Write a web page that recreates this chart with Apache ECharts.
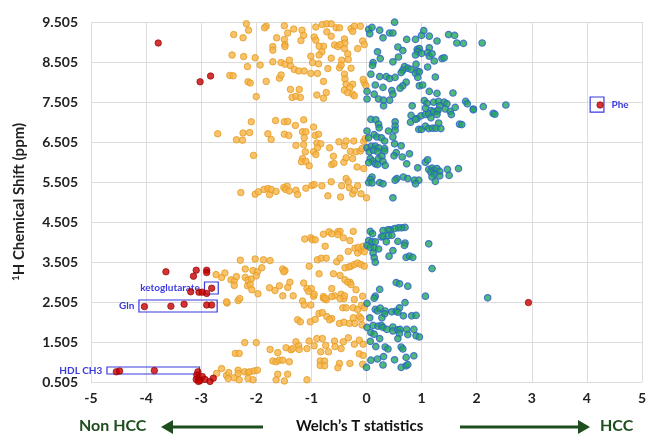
<!DOCTYPE html>
<html><head><meta charset="utf-8">
<script src="https://cdn.jsdelivr.net/npm/echarts@6/dist/echarts.min.js"></script>
<style>html,body{margin:0;padding:0;background:#fff}#c{width:649px;height:436px}</style>
</head><body><div id="c"></div>
<script>
const xTicks = [-5,-4,-3,-2,-1,0,1,2,3,4,5];
const yTicks = [0.505,1.505,2.505,3.505,4.505,5.505,6.505,7.505,8.505,9.505];

const orangePoints = [
[-2.18,9.46],[-2.14,9.30],[-2.41,9.19],[-2.24,9.11],[-1.82,9.40],[-1.85,9.36],[-1.49,9.41],[-1.32,9.33],[-1.43,9.23],[-1.17,9.30],
[-1.14,9.17],[-1.63,9.11],[-1.49,9.07],[-1.19,9.04],[-1.48,8.94],[-0.92,9.38],[-0.80,9.44],[-0.72,9.46],[-0.64,9.46],[-0.55,9.36],
[-0.49,9.36],[-0.28,9.34],[-0.22,9.40],[-0.11,9.40],[-0.25,9.27],[-0.72,9.26],[-0.64,9.15],[-0.95,9.13],[-0.92,9.05],[-0.40,9.08],
[-0.39,8.98],[-0.07,9.03],[-0.04,8.94],[-0.58,8.93],[-0.52,8.89],[-0.40,8.84],[-0.48,8.94],[-0.78,8.90],[-0.86,8.90],[-1.70,8.89],
[-1.70,8.80],[-1.48,8.89],[-0.16,8.84],[-0.81,8.76],[-0.86,8.68],[-1.01,8.65],[-0.64,8.60],[-0.45,8.55],[-0.34,8.71],[-0.33,8.57],
[-2.44,8.68],[-2.23,8.64],[-2.02,8.61],[-1.70,8.51],[-1.55,8.49],[-1.48,8.45],[-1.40,8.55],[-1.93,8.43],[-2.16,8.39],[-1.38,8.41],
[-1.31,8.32],[-1.23,8.28],[-1.13,8.28],[-0.98,8.49],[-0.87,8.46],[-0.70,8.34],[-1.01,8.22],[-0.89,8.22],[-0.49,8.36],[-0.46,8.43],
[-0.28,8.35],[-0.40,8.20],[-0.39,8.08],[-0.37,7.95],[-2.48,8.17],[-2.42,8.16],[-2.15,8.01],[-2.11,7.98],[-1.82,8.02],[-1.58,8.10],
[-1.55,8.18],[-0.78,8.02],[-0.25,7.95],[-0.40,7.80],[-0.34,7.74],[-0.25,7.70],[-0.22,7.66],[-0.30,7.87],[-0.04,7.99],[-0.01,7.91],
[-0.06,8.07],[-1.38,7.82],[-1.22,7.82],[-0.73,7.74],[-0.90,7.68],[-0.78,7.60],[-1.35,7.62],[-1.28,7.65],[-1.20,7.62],[-2.00,7.64],
[-2.70,6.71],[-2.36,6.56],[-2.25,6.55],[-2.24,6.73],[-2.12,6.74],[-2.09,7.01],[-2.05,6.17],[-1.79,6.71],[-1.73,6.57],[-1.65,7.04],
[-1.49,7.01],[-1.43,7.02],[-1.49,6.70],[-1.41,6.67],[-1.29,6.92],[-1.14,7.06],[-1.16,6.76],[-1.10,6.76],[-1.13,6.61],[-0.96,6.88],
[-0.93,6.67],[-0.87,6.70],[-1.28,6.42],[-1.14,6.44],[-0.90,6.48],[-0.83,6.46],[-0.89,6.36],[-1.11,6.26],[-0.96,6.26],[-0.92,6.19],
[-1.16,6.09],[-1.18,6.01],[-1.10,6.02],[-1.04,5.91],[-0.67,6.36],[-0.50,6.51],[-0.40,6.41],[-0.37,6.53],[-0.23,6.53],[-0.60,6.15],
[-0.63,5.94],[-0.59,5.97],[-0.41,6.00],[-0.37,6.11],[-0.29,6.27],[-0.25,6.09],[-0.19,6.26],[-0.11,6.28],[-0.08,6.34],[-0.05,6.52],
[-0.02,6.59],[-0.17,5.88],[-0.05,5.84],[-2.28,5.24],[-2.02,5.20],[-1.96,5.26],[-1.86,5.32],[-1.79,5.34],[-1.76,5.19],[-1.73,5.32],
[-1.64,5.27],[-1.50,5.37],[-1.44,5.40],[-1.47,5.32],[-1.40,5.28],[-1.28,5.30],[-1.25,5.19],[-1.10,5.35],[-0.99,5.42],[-0.95,5.44],
[-0.81,5.41],[-0.64,5.51],[-0.70,5.16],[-0.47,5.13],[-0.45,5.41],[-0.37,5.59],[-0.33,5.51],[-0.31,5.36],[-0.25,5.21],[-0.22,5.30],
[-0.16,5.41],[-0.10,5.21],[0.00,5.11],
[-1.12,4.08],[-1.01,4.11],[-0.98,4.06],[-0.93,4.06],[-0.78,4.20],[-0.68,4.26],[-0.63,4.21],[-0.52,4.26],[-0.48,4.27],[-0.52,4.19],
[-0.42,4.11],[-0.30,4.04],[-0.24,4.27],[-0.75,3.90],[-0.33,3.77],[-0.21,3.85],[-0.16,3.73],[-0.10,3.81],[-0.04,3.76],[-0.15,3.87],
[-0.06,3.90],[-2.29,3.55],[-2.02,3.58],[-1.87,3.56],[-1.75,3.54],[-2.20,3.33],[-2.06,3.29],[-1.98,3.26],[-1.90,3.36],[-1.52,3.33],
[-1.48,3.29],[-1.50,3.26],[-1.04,3.40],[-0.89,3.56],[-0.82,3.60],[-0.73,3.60],[-0.54,3.51],[-0.48,3.60],[-0.39,3.36],[-0.32,3.38],
[-0.28,3.40],[-0.22,3.44],[-0.16,3.48],[-0.10,3.44],[-0.04,3.40],[-0.86,3.21],[-0.60,3.21],[-0.48,3.17],[-0.39,3.06],[-0.30,3.00],
[-2.73,3.19],[-2.63,3.12],[-2.57,3.23],[-2.46,3.06],[-2.40,3.03],[-2.36,3.14],[-2.40,2.92],[-2.20,3.12],[-2.15,3.05],[-2.09,3.08],
[-2.00,3.16],[-2.16,2.91],[-2.11,2.94],[-2.08,2.81],[-1.76,2.86],[-1.58,2.91],[-1.66,2.79],[-1.52,2.66],[-1.43,2.87],[-1.39,3.00],
[-1.33,2.66],[-1.14,2.98],[-1.08,2.84],[-1.00,2.84],[-1.05,2.77],[-0.96,2.65],[-0.63,2.84],[-0.58,2.66],[-0.46,2.70],[-0.41,2.59],
[-0.78,2.60],[-0.73,2.56],[-0.34,3.00],[-0.28,2.94],[-0.19,2.81],[-0.07,2.65],[-1.97,2.71],[-2.33,2.54],[-2.53,2.48],
[-2.54,2.51],[-2.30,2.59],[-1.16,2.53],[-1.13,2.43],[-1.01,2.43],[-0.95,2.70],[-0.78,2.64],[-0.75,2.60],[-0.63,2.64],[-0.48,2.59],
[-0.40,2.66],[-0.22,2.57],[-0.43,2.36],[-0.37,2.36],[-0.24,2.36],[-0.16,2.32],[-0.09,2.42],[-0.04,2.36],[-0.86,2.22],[-0.80,2.24],
[-0.72,2.14],[-0.63,2.09],[-0.67,2.06],[-0.24,2.11],[-0.13,2.14],[-0.10,2.09],[-1.25,2.06],[-1.20,2.01],[-1.02,2.01],[-0.93,2.07],
[-0.49,1.97],[-0.41,2.00],[-0.31,1.97],[-0.21,1.97],[-0.08,1.93],[-2.21,1.49],[-2.00,1.49],[-2.38,1.22],[-2.31,1.22],[-1.75,1.32],
[-1.61,1.24],[-1.46,1.36],[-1.37,1.31],[-1.34,1.34],[-1.28,1.51],[-1.23,1.41],[-1.22,1.32],[-1.08,1.34],[-1.04,1.53],[-0.95,1.41],
[-0.90,1.59],[-0.80,1.59],[-0.74,1.42],[-0.58,1.53],[-0.57,1.39],[-0.83,1.26],[-0.69,1.26],[-0.46,1.34],[-0.42,1.51],[-0.33,1.61],
[-0.22,1.45],[-0.13,1.55],[-0.06,1.45],[-0.13,1.21],[-0.06,1.17],[-1.70,1.03],[-1.64,1.01],[-1.58,1.05],[-1.52,1.05],[-1.40,1.01],
[-1.61,0.70],[-1.43,0.70],[-1.64,0.56],[-1.49,0.53],[-1.08,0.56],[-0.84,1.03],[-0.76,1.03],[-0.84,0.92],[-0.76,0.91],[-0.49,0.97],
[-0.52,0.86],[-0.30,0.97],[-0.07,0.95],[-2.63,0.84],[-2.72,0.72],[-2.54,0.67],[-2.50,0.74],[-2.51,0.59],[-2.40,0.61],[-2.33,0.80],
[-2.33,0.72],[-2.21,0.76],[-2.15,0.74],[-2.12,0.76],[-2.04,0.78],[-1.98,0.80],[-2.31,0.56],[-2.15,0.59],[-2.06,0.56]
];

const tealPoints = [
[0.51,9.50],[0.04,9.32],[0.10,9.37],[0.06,9.21],[0.24,9.30],[0.30,9.11],[0.42,9.23],[0.48,9.23],[0.73,9.07],[0.89,9.07],
[1.00,9.17],[1.04,9.29],[1.14,9.15],[1.28,9.03],[1.49,9.19],[1.60,9.17],[1.64,8.98],[1.76,8.97],[2.10,8.98],[0.57,8.88],
[0.66,8.79],[0.20,8.76],[0.25,8.59],[0.58,8.63],[0.48,8.51],[0.12,8.49],[0.11,8.42],[0.92,8.82],[0.96,8.84],[0.93,8.76],
[0.89,8.68],[1.00,8.72],[1.14,8.86],[1.11,8.74],[1.14,8.65],[1.19,8.71],[1.23,8.53],[1.37,8.59],[1.41,8.61],[0.69,8.39],
[0.75,8.35],[0.81,8.32],[0.66,8.30],[0.63,8.24],[0.90,8.45],[0.92,8.28],[0.89,8.22],[0.96,8.26],[1.11,8.38],[0.93,8.12],
[1.25,8.13],[0.08,8.20],[0.24,8.14],[0.36,8.14],[0.42,8.09],[0.52,8.12],[0.72,8.00],[0.66,7.91],[0.61,7.85],[0.16,7.93],
[0.30,7.87],[0.01,7.77],[0.14,7.70],[0.46,7.79],[0.48,7.70],[0.96,7.91],[1.02,7.93],[1.14,7.77],[1.28,7.72],[1.57,7.73],
[0.01,7.58],[0.22,7.58],[0.31,7.55],[0.42,7.55],[0.31,7.41],[0.83,7.41],[1.05,7.54],[1.10,7.47],[1.22,7.50],[1.31,7.52],
[1.41,7.50],[1.46,7.46],[1.33,7.41],[1.61,7.37],[1.80,7.52],[1.83,7.46],[1.94,7.33],[2.12,7.39],[2.30,7.22],[2.53,7.43],
[1.07,7.35],[1.17,7.29],[1.28,7.27],[1.43,7.33],
[0.81,7.17],[0.92,7.09],[0.99,7.16],[1.07,7.19],[1.13,7.21],[1.22,7.27],[1.30,7.30],[1.28,7.19],[1.17,7.11],[1.52,7.27],
[1.54,7.19],[1.94,7.31],[2.33,7.20],[0.80,7.00],[0.89,7.07],[0.95,6.82],[1.00,6.82],[1.07,6.90],[1.13,6.84],[1.20,6.85],
[1.26,6.85],[1.35,6.84],[1.31,6.98],[1.69,6.95],[1.73,6.94],[0.08,7.07],[0.17,7.06],[0.22,6.95],[0.23,6.86],[0.01,6.78],
[0.40,6.78],[0.52,7.01],[0.52,6.90],[0.52,6.80],[0.48,6.63],[0.14,6.69],[0.19,6.63],[0.27,6.61],[0.33,6.53],[0.04,6.61],
[0.01,6.36],[0.09,6.40],[0.16,6.40],[0.22,6.36],[0.33,6.34],[0.33,6.28],[0.05,6.26],[0.13,6.30],[0.20,6.26],[0.51,6.46],
[0.63,6.41],[0.54,6.24],[0.50,6.16],[0.65,6.13],[0.78,6.21],[0.07,6.09],[0.11,6.03],[0.04,5.99],[0.16,5.96],[0.22,6.09],
[0.28,6.15],[0.30,6.02],[0.34,5.92],[0.20,5.94],[0.73,5.96],[1.07,6.00],[1.11,6.06],[0.93,5.86],[1.13,5.82],[1.19,5.85],
[1.23,5.80],[1.28,5.84],[1.33,5.77],[1.17,5.75],[1.23,5.70],[1.33,5.66],[1.19,5.63],[1.47,5.82],[1.67,5.84],[1.50,5.67],
[1.25,5.52],[0.10,5.63],[0.07,5.57],[0.04,5.49],[0.10,5.48],[0.24,5.49],[0.30,5.46],[0.55,5.59],[0.52,5.55],[0.67,5.63],
[0.75,5.59],[0.87,5.55],[0.95,5.55],[0.89,5.46],[0.48,5.11],
[0.70,4.37],[0.64,4.36],[0.58,4.36],[0.51,4.34],[0.43,4.31],[0.39,4.31],[0.30,4.29],[0.27,4.13],[0.30,4.15],[0.40,4.17],
[0.46,4.17],[0.07,4.27],[0.11,4.21],[0.04,4.04],[0.10,4.01],[0.16,4.01],[0.36,4.01],[0.57,4.02],[0.70,3.98],[0.69,3.92],
[0.01,3.92],[0.07,3.87],[0.14,3.86],[0.22,3.83],[0.12,3.73],[0.14,3.61],[0.16,3.50],[0.48,3.79],[0.41,3.65],[0.72,3.62],
[0.78,3.65],[0.84,3.62],[1.13,3.96],[1.19,3.34],[0.24,2.82],[0.54,2.99],[0.60,2.96],[0.75,2.90],[0.16,2.65],[0.14,2.60],
[0.01,2.47],[0.70,2.49],[1.07,2.65],[2.20,2.61],[0.16,2.32],[0.20,2.28],[0.25,2.35],[0.34,2.28],[0.46,2.26],[0.54,2.28],
[0.60,2.36],[0.57,2.25],[0.33,2.21],[0.28,2.11],[0.06,2.11],[0.01,1.87],[0.12,1.92],[0.21,1.90],[0.27,1.92],[0.30,1.87],
[0.37,1.82],[0.48,1.88],[0.48,1.78],[0.57,1.81],[0.61,1.82],[0.60,1.72],[0.67,2.16],[0.82,2.16],[0.90,2.17],[0.73,1.82],
[0.86,1.82],[0.90,1.66],[0.96,1.63],[0.75,1.69],[0.57,1.59],[0.08,1.74],[0.14,1.70],[0.24,1.59],[0.07,1.52],[0.17,1.39],
[0.34,1.38],[0.39,1.33],[0.63,1.38],[0.66,1.33],[0.86,1.16],[0.72,1.12],[0.31,1.14],[0.20,1.08],[0.08,1.05],[0.51,1.06],
[0.00,0.87],[0.30,0.93],[0.63,0.87],[0.72,0.91],[0.75,0.94]
];

const redPoints = [
[-3.78,8.98],[-3.02,8.01],[-2.83,8.155],[4.24,7.43],[2.94,2.49],
[-3.64,3.26],[-3.09,3.30],[-2.90,3.30],[-2.90,3.24],[-3.14,3.15],[-2.81,2.85],[-3.19,2.76],[-3.04,2.75],[-2.98,2.75],[-2.90,2.72],
[-4.03,2.39],[-3.55,2.40],[-3.31,2.45],[-2.90,2.43],[-2.81,2.43],
[-4.54,0.76],[-4.48,0.78],[-3.85,0.79],[-3.06,0.76],[-3.08,0.68],[-3.05,0.60],[-2.98,0.64],[-3.09,0.57],[-3.02,0.54],[-2.93,0.57],
[-2.84,0.52],[-2.78,0.60],[-3.05,0.52]
];

// annotation boxes: [label, xMin, yMin, xMax, yMax, labelSide]
const annotations = [
['Phe', 4.06, 7.25, 4.31, 7.63, 'right'],
['ketoglutarate', -2.94, 2.705, -2.69, 3.005, 'left'],
['Gln', -4.13, 2.255, -2.71, 2.555, 'left'],
['HDL CH3', -4.71, 0.705, -3.03, 0.88, 'left']
];

const chart = echarts.init(document.getElementById('c'), null, {renderer:'canvas'});
const FONT = 'Lato';
const boxBlue = '#3a3ae0';
const dark = '#222';
const green = '#1e4d1e';

chart.setOption({
  animation: false,
  backgroundColor: '#ffffff',
  grid: {left: 91, right: 4, top: 22, bottom: 54},
  xAxis: {
    type: 'value', min: -5, max: 5, interval: 1,
    axisLine: {show: false}, axisTick: {show: false},
    splitLine: {show: true, lineStyle: {color: '#dcdcdc', width: 1}},
    axisLabel: {color: dark, fontFamily: FONT, fontWeight: 'bold', fontSize: 14, margin: 9,
      formatter: v => String(Math.round(v))}
  },
  yAxis: {
    type: 'value', min: 0.505, max: 9.505,
    axisLine: {show: false},
    axisTick: {show: false, customValues: yTicks},
    splitLine: {show: true, lineStyle: {color: '#dcdcdc', width: 1}},
    axisLabel: {customValues: yTicks, color: dark, fontFamily: FONT, fontWeight: 'bold', fontSize: 14, margin: 13,
      formatter: v => Number(v).toFixed(3)},
    name: '{sup|1}H Chemical Shift (ppm)', nameLocation: 'middle', nameGap: 64, nameRotate: 90,
    nameTextStyle: {color: dark, fontFamily: FONT, fontWeight: 'bold', fontSize: 15,
      rich: {sup: {fontSize: 10, fontWeight: 'bold', fontFamily: FONT, color: dark, verticalAlign: 'top', padding: [0,0,6,0]}}}
  },
  series: [
    {type: 'scatter', name: 'ns', data: orangePoints, symbolSize: 6.5, z: 2,
     itemStyle: {color: '#f6b446', borderColor: '#e39a22', borderWidth: 1}},
    {type: 'scatter', name: 'hcc', data: tealPoints, symbolSize: 6.5, z: 3,
     itemStyle: {color: '#23a85a', borderColor: '#2f5fcf', borderWidth: 1.2}},
    {type: 'scatter', name: 'sig', data: redPoints, symbolSize: 6.5, z: 4,
     itemStyle: {color: '#c80000', borderColor: '#8a0000', borderWidth: 0.8},
     markArea: {silent: true,
       itemStyle: {color: 'rgba(0,0,0,0)', borderColor: boxBlue, borderWidth: 1.2},
       data: annotations.map(a => [
         {coord: [a[1], a[2]], name: a[0],
          label: {show: true, position: a[5], distance: a[5] === 'right' ? 7 : 4, color: boxBlue, fontFamily: FONT, fontWeight: 'bold', fontSize: 10}},
         {coord: [a[3], a[4]]}
       ])}
    }
  ],
  graphic: [
    {type: 'text', left: 79, top: 418, style: {text: 'Non HCC', fill: green, font: 'bold 16px Lato'}},
    {type: 'line', shape: {x1: 263, y1: 427, x2: 170, y2: 427}, style: {stroke: green, lineWidth: 3}},
    {type: 'polygon', shape: {points: [[161,427],[173,420],[173,434]]}, style: {fill: green}},
    {type: 'text', left: 296, top: 419, style: {text: 'Welch\u2019s T statistics', fill: '#111', font: 'bold 15px Lato'}},
    {type: 'line', shape: {x1: 460, y1: 427, x2: 580, y2: 427}, style: {stroke: green, lineWidth: 3}},
    {type: 'polygon', shape: {points: [[590,427],[578,420],[578,434]]}, style: {fill: green}},
    {type: 'text', left: 600, top: 418, style: {text: 'HCC', fill: green, font: 'bold 16px Lato'}}
  ]
});
</script></body></html>
